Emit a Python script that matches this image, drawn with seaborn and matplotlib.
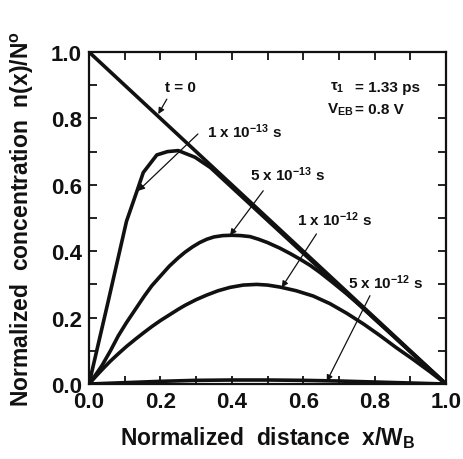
import matplotlib
matplotlib.use("Agg")
import matplotlib.pyplot as plt
from matplotlib.ticker import MultipleLocator
import seaborn as sns

# Electron profiles in the base after switch-off, read at fixed instants
x_t0 = [0.0, 1.0]
y_t0 = [1.0, 0.0]

x_1e13 = [0.0, 0.054, 0.105, 0.134, 0.152, 0.19, 0.22, 0.25, 0.297, 0.34, 0.5, 0.7, 0.9, 1.0]
y_1e13 = [0.0, 0.25, 0.49, 0.58, 0.637, 0.69, 0.70, 0.703, 0.683, 0.652, 0.493, 0.295, 0.097, 0.0]

x_5e13 = [0.0, 0.02, 0.036, 0.06, 0.082, 0.105, 0.13, 0.155, 0.176, 0.2, 0.225, 0.25,
          0.269, 0.29, 0.31, 0.33, 0.35, 0.375, 0.4, 0.425, 0.451, 0.475, 0.5, 0.535,
          0.565, 0.591, 0.62, 0.647, 0.68, 0.72, 0.76, 0.8, 0.85, 0.9, 0.95, 1.0]
y_5e13 = [0.0, 0.03, 0.055, 0.1, 0.145, 0.185, 0.225, 0.265, 0.296, 0.325, 0.355, 0.38,
          0.397, 0.413, 0.426, 0.436, 0.443, 0.447, 0.448, 0.447, 0.444, 0.436, 0.426, 0.409,
          0.392, 0.376, 0.357, 0.336, 0.308, 0.273, 0.236, 0.196, 0.148, 0.098, 0.049, 0.0]

x_1e12 = [0.0, 0.02, 0.04, 0.06, 0.082, 0.105, 0.13, 0.155, 0.176, 0.2, 0.225, 0.25,
          0.269, 0.3, 0.33, 0.362, 0.395, 0.432, 0.47, 0.5, 0.535, 0.58, 0.628, 0.675,
          0.722, 0.77, 0.815, 0.86, 0.908, 0.955, 1.0]
y_1e12 = [0.0, 0.024, 0.047, 0.069, 0.091, 0.113, 0.135, 0.156, 0.173, 0.191, 0.208, 0.225,
          0.237, 0.254, 0.268, 0.281, 0.291, 0.298, 0.3, 0.298, 0.292, 0.281, 0.265, 0.242,
          0.213, 0.18, 0.146, 0.11, 0.074, 0.037, 0.0]

x_5e12 = [0.0, 0.1, 0.2, 0.3, 0.4, 0.5, 0.6, 0.7, 0.8, 0.9, 1.0]
y_5e12 = [0.0, 0.004, 0.008, 0.011, 0.012, 0.012, 0.011, 0.009, 0.006, 0.003, 0.0]

tick_values = [0.0, 0.2, 0.4, 0.6, 0.8, 1.0]
tick_labels = ["0.0", "0.2", "0.4", "0.6", "0.8", "1.0"]

curve_labels = ["t = 0",
                r"1 x 10$^{\mathrm{-13}}$ s",
                r"5 x 10$^{\mathrm{-13}}$ s",
                r"1 x 10$^{\mathrm{-12}}$ s",
                r"5 x 10$^{\mathrm{-12}}$ s"]

sns.set_style("ticks")
plt.rcParams["font.family"] = ["Liberation Sans", "DejaVu Sans"]
plt.rcParams["font.weight"] = "bold"
plt.rcParams["mathtext.fontset"] = "custom"
plt.rcParams["mathtext.rm"] = "Liberation Sans:bold"
plt.rcParams["mathtext.it"] = "Liberation Sans:bold"
plt.rcParams["mathtext.bf"] = "Liberation Sans:bold"

ink = "#111111"
fig = plt.figure(figsize=(4.64, 4.60), dpi=100)
ax = fig.add_axes([89 / 464, 1 - 385 / 460, (446 - 89) / 464, (385 - 53) / 460])

for xs, ys in [(x_t0, y_t0), (x_1e13, y_1e13), (x_5e13, y_5e13),
               (x_1e12, y_1e12), (x_5e12, y_5e12)]:
    sns.lineplot(x=xs, y=ys, ax=ax, color=ink, lw=2.6, estimator=None,
                 solid_joinstyle="round", solid_capstyle="round")

ax.set_xlim(0, 1)
ax.set_ylim(0, 1)
ax.set_xticks(tick_values)
ax.set_xticklabels(tick_labels)
ax.set_yticks(tick_values)
ax.set_yticklabels(tick_labels)
ax.xaxis.set_minor_locator(MultipleLocator(0.1))
ax.yaxis.set_minor_locator(MultipleLocator(0.1))
ax.tick_params(which="both", direction="in", top=True, right=True,
               length=6, width=1.3, color=ink)
ax.tick_params(which="major", labelsize=16, pad=5, labelcolor=ink)
for lab in ax.get_xticklabels() + ax.get_yticklabels():
    lab.set_fontweight("bold")
for sp in ax.spines.values():
    sp.set_linewidth(1.6)
    sp.set_color(ink)

ax.set_xlabel(r"Normalized  distance  x/W$_{\mathrm{B}}$", fontsize=16.5,
              fontweight="bold", color=ink, labelpad=9)
ax.set_ylabel(r"Normalized  concentration  n(x)/N$^{\mathrm{o}}$", fontsize=16.5,
              fontweight="bold", color=ink, labelpad=11)

# Curve labels with pointer arrows
label_pos = [(0.255, 0.895), (0.33, 0.762), (0.451, 0.633), (0.583, 0.497), (0.725, 0.307)]
arrow_tail = [(0.218, 0.858), (0.305, 0.753), (0.488, 0.582), (0.637, 0.452), (0.787, 0.266)]
arrow_head = [(0.194, 0.813), (0.138, 0.582), (0.395, 0.448), (0.54, 0.291), (0.666, 0.008)]
aligns = ["center", "left", "left", "left", "left"]

for text, (tx, ty), tail, head, ha in zip(curve_labels, label_pos, arrow_tail, arrow_head, aligns):
    ax.text(tx, ty, text, fontsize=11, fontweight="bold", ha=ha, va="center", color=ink)
    ax.annotate("", xy=head, xytext=tail,
                arrowprops=dict(arrowstyle="-|>", lw=0.9, color=ink,
                                mutation_scale=9, shrinkA=0, shrinkB=0))

ax.text(0.675, 0.895, r"$\tau_{\mathrm{1}}$", fontsize=11, ha="left", va="center", color=ink)
ax.text(0.745, 0.895, "= 1.33 ps", fontsize=11, fontweight="bold", ha="left", va="center", color=ink)
ax.text(0.668, 0.828, r"V$_{\mathrm{EB}}$", fontsize=11, ha="left", va="center", color=ink)
ax.text(0.745, 0.828, "= 0.8 V", fontsize=11, fontweight="bold", ha="left", va="center", color=ink)

fig.savefig("out.png", dpi=100, facecolor="white")
